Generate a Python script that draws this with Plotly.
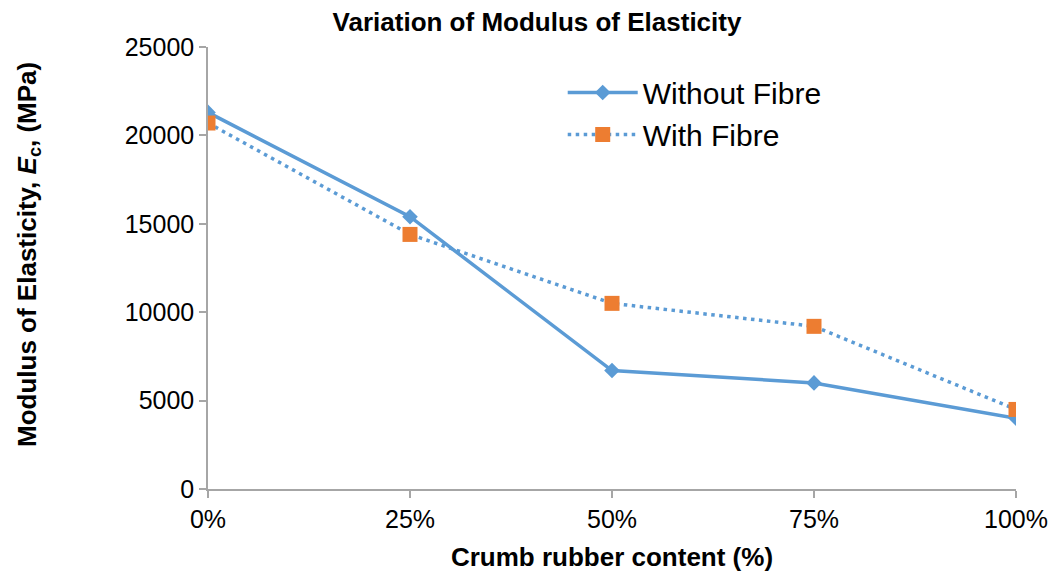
import plotly.graph_objects as go

# Crumb rubber replacement levels and measured moduli (MPa)
content_labels = ["0%", "25%", "50%", "75%", "100%"]
content_pct = [0, 25, 50, 75, 100]
without_fibre = [21300, 15400, 6700, 6000, 4000]
with_fibre = [20700, 14400, 10500, 9200, 4500]
y_ticks = [0, 5000, 10000, 15000, 20000, 25000]

blue = "#5B9BD5"
orange = "#ED7D31"
axis_grey = "#A6A6A6"
font_family = "Liberation Sans, Arial, sans-serif"

fig = go.Figure()

fig.add_trace(go.Scatter(
    x=content_pct, y=without_fibre, name="Without Fibre",
    mode="lines+markers",
    line=dict(color=blue, width=3.5),
    marker=dict(symbol="diamond", size=12, color=blue),
))

fig.add_trace(go.Scatter(
    x=content_pct, y=with_fibre, name="With Fibre",
    mode="lines+markers",
    line=dict(color=blue, width=3.5, dash="3.5px,4.5px"),
    marker=dict(symbol="square", size=15, color=orange),
))

fig.update_layout(
    width=1054, height=578,
    margin=dict(l=208, r=38, t=47, b=89),
    paper_bgcolor="white", plot_bgcolor="white",
    font=dict(family=font_family, color="black", size=25),
    title=dict(
        text="<b>Variation of Modulus of Elasticity</b>",
        x=537 / 1054, xanchor="center",
        y=1 - 22 / 578, yanchor="middle",
        font=dict(size=26, family=font_family, color="black"),
    ),
    showlegend=True,
    legend=dict(
        x=0.439, y=0.956, xanchor="left", yanchor="top",
        bgcolor="rgba(0,0,0,0)",
        font=dict(size=30, family=font_family, color="black"),
        itemwidth=70,
        tracegroupgap=9,
    ),
    annotations=[dict(
        text="<b>Modulus of Elasticity, <i>E</i><sub>c</sub>, (MPa)</b>",
        textangle=-90, showarrow=False,
        xref="paper", yref="paper",
        x=(28 - 208) / 808, y=(489 - 255) / 442,
        xanchor="center", yanchor="middle",
        font=dict(size=26, family=font_family, color="black"),
    )],
)

fig.update_xaxes(
    range=[0, 100], automargin=False,
    tickmode="array", tickvals=content_pct, ticktext=content_labels,
    showgrid=False, zeroline=False,
    showline=True, linecolor=axis_grey, linewidth=1.5,
    ticks="outside", ticklen=7, tickcolor=axis_grey, tickwidth=1.5,
    tickfont=dict(size=25, family=font_family, color="black"),
    title=dict(text="<b>Crumb rubber content (%)</b>", standoff=16,
               font=dict(size=26, family=font_family, color="black")),
)

fig.update_yaxes(
    range=[0, 25000], automargin=False,
    tickmode="array", tickvals=y_ticks, tickformat="d",
    showgrid=False, zeroline=False,
    showline=True, linecolor=axis_grey, linewidth=1.5,
    ticks="outside", ticklen=7, tickcolor=axis_grey, tickwidth=1.5,
    tickfont=dict(size=25, family=font_family, color="black"),
)

fig.write_html("out.html")
